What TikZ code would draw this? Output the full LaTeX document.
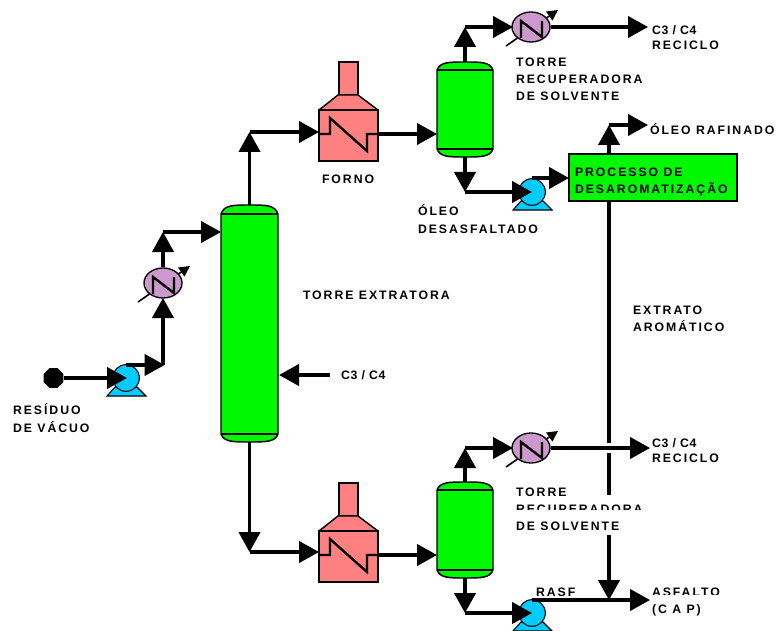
\documentclass[tikz,border=0pt]{standalone}
\usepackage{fontspec}
\setmainfont{Liberation Sans}[LetterSpace=16]
\usetikzlibrary{arrows.meta,shapes.geometric}
\definecolor{vgreen}{HTML}{00F800}
\definecolor{fornored}{HTML}{FF8080}
\definecolor{hxplum}{HTML}{CC99CC}
\definecolor{pumpblue}{HTML}{00CCFF}
\tikzset{
  flow/.style={line width=2.3pt,-{Triangle[length=15pt,width=16pt]}},
  pipe/.style={line width=2.3pt},
  eqline/.style={draw=black,line width=1.1pt},
  anchorbox/.style={inner sep=0pt,outer sep=0pt},
  lbl/.style={anchor=north west,inner sep=0pt,outer sep=0pt,align=left,font=\fontsize{9.2}{12.9}\selectfont\bfseries,text=black},
  lblnarrow/.style={lbl,font=\fontsize{9.2}{12.9}\selectfont\bfseries\addfontfeature{LetterSpace=6}},
}
\newcommand{\vessel}[7]{%
  \fill[vgreen] (#2,#6) .. controls ({#2+3},#3) and ({#2+12},#3) .. ({(#2+#4)/2},#3) .. controls ({#4-12},#3) and ({#4-3},#3) .. (#4,#6) -- (#4,#7) .. controls ({#4-3},#5) and ({#4-12},#5) .. ({(#2+#4)/2},#5) .. controls ({#2+12},#5) and ({#2+3},#5) .. (#2,#7) -- cycle;
  \draw[eqline] (#2,#6) .. controls ({#2+3},#3) and ({#2+12},#3) .. ({(#2+#4)/2},#3) .. controls ({#4-12},#3) and ({#4-3},#3) .. (#4,#6) -- (#4,#7) .. controls ({#4-3},#5) and ({#4-12},#5) .. ({(#2+#4)/2},#5) .. controls ({#2+12},#5) and ({#2+3},#5) .. (#2,#7) -- cycle;
  \draw[eqline] (#2,#6) -- (#4,#6) (#2,#7) -- (#4,#7);
  \node[anchorbox,minimum width={(#4-#2)*0.75pt},minimum height={(#5-#3)*0.75pt}] (#1) at ({(#2+#4)/2},{(#3+#5)/2}) {};
}
\newcommand{\forno}[3]{%
  \begin{scope}[shift={(#2,#3)}]
    \draw[eqline,fill=fornored] (20,-48) rectangle (39,-15);
    \draw[eqline,fill=fornored,line join=bevel] (0,0) -- (19,-15) -- (39,-15) -- (59,0) -- cycle;
    \draw[eqline,fill=fornored] (0,0) rectangle (59,51);
    \node[anchorbox,minimum width=44.25pt,minimum height=38.25pt] (#1) at (29.5,25.5) {};
    \draw[line width=1.8pt] (0,24) -- (11,24) -- (11,8) -- (48,41) -- (48,24) -- (59,24);
  \end{scope}
}
\newcommand{\hxr}[3]{%
  \begin{scope}[shift={(#2,#3)}]
    \draw[line width=1.2pt,-{Triangle[length=8pt,width=8pt]}] (-25,19) -- (27,-17);
    \node[ellipse,draw=black,line width=1pt,fill=hxplum,inner sep=0pt,minimum width=28.5pt,minimum height=22.5pt] (#1) at (0,0) {};
    \draw[line width=1.8pt] (-10,11) -- (-10,-6) -- (11,10) -- (11,-6);
  \end{scope}
}
\newcommand{\pumpa}[3]{%
  \begin{scope}[shift={(#2,#3)}]
    \draw[line width=0.8pt,fill=pumpblue] (-19,18) -- (-11,9) -- (11,9) -- (20,18) -- cycle;
    \node[circle,draw=black,line width=0.8pt,fill=pumpblue,inner sep=0pt,minimum size=20pt] (#1) at (0,0) {};
  \end{scope}
}
\begin{document}
\begin{tikzpicture}[x=0.75pt,y=-0.75pt]
\useasboundingbox (0,0) rectangle (781,631);
\clip (0,0) rectangle (781,631);
% equipment
\vessel{extr}{221}{205}{278}{442}{214}{434}
\vessel{drumA}{437}{62}{493}{157}{70}{149}
\vessel{drumB}{437}{482}{493}{578}{490}{570}
\forno{fornoA}{319}{110}
\forno{fornoB}{319}{531}
\hxr{hxA}{163}{283}
\hxr{hxB}{531}{27}
\hxr{hxC}{531}{448}
\pumpa{pA}{126}{378}
\pumpa{pB}{532}{192}
\pumpa{pC}{532}{613}
\node[anchorbox,draw=black,line width=1.1pt,fill=vgreen,minimum width=126pt,minimum height=35.25pt] (proc) at (653,177.5) {};
\node[regular polygon,regular polygon sides=8,fill=black,inner sep=0pt,minimum size=16pt] (src) at (53.5,378) {};
% junctions
\coordinate (a1) at (127,378);
\coordinate (a2) at (126,365);
\coordinate (a3) at (163,365);
\coordinate (a4) at (163,232);
\coordinate (a5) at (249.5,132);
\coordinate (a6) at (249.5,552);
\coordinate (b1) at (465,27);
\coordinate (b2) at (465,192);
\coordinate (b3) at (532,178);
\coordinate (b4) at (609,125);
\coordinate (c1) at (465,448);
\coordinate (c2) at (465,613);
\coordinate (c3) at (532,600);
\coordinate (d0) at (609,201);
\coordinate (d1) at (609,443);
\coordinate (d2) at (609,453);
\coordinate (d3) at (609,495);
\coordinate (d4) at (609,535);
\coordinate (d5) at (609,600);
\coordinate (eA) at (648,27);
\coordinate (eB) at (650,448);
\coordinate (eR) at (648,125);
\coordinate (eS) at (650,600);
\coordinate (fA) at (437,134);
\coordinate (fB) at (437,555);
\coordinate (fA0) at (378,134);
\coordinate (fB0) at (378,555);
\coordinate (g0) at (330,375);
\coordinate (g1) at (279,375);
\coordinate (hA) at (163,298);
\coordinate (hB) at (513,27);
\coordinate (hC) at (513,448);
% connectors
\draw[flow] (src) -- (a1);
\draw[flow] (a2) -- ([xshift=1.2pt]a3);
\draw[flow] (a3) -- (hA);
\draw[flow] (hxA.north) -- (a4);
\draw[flow] (a4) -- (extr.west|-a4);
\draw[flow] (extr.north) -- (a5);
\draw[flow] (a5) -- (fornoA.west|-a5);
\draw[flow] (fA0) -- (fA);
\draw[flow] (drumA.north) -- (b1);
\draw[flow] (b1) -- (hB);
\draw[flow] (hxB.east) -- (eA);
\draw[flow] (drumA.south) -- (b2);
\draw[flow] (b2) -- (pB.center);
\draw[flow] (b3) -- (proc.west|-b3);
\draw[flow] (proc.north-|b4) -- (b4);
\draw[flow] (b4) -- (eR);
\draw[flow] (g0) -- (g1);
\draw[flow] (extr.south) -- (a6);
\draw[flow] (a6) -- (fornoB.west|-a6);
\draw[flow] (fB0) -- (fB);
\draw[flow] (drumB.north) -- (c1);
\draw[flow] (c1) -- (hC);
\draw[flow] (hxC.east) -- (eB);
\draw[flow] (drumB.south) -- (c2);
\draw[flow] (c2) -- (pC.center);
\draw[flow] (c3) -- (eS);
\draw[pipe] (d0) -- (d1);
\draw[pipe] (d2) -- (d3);
\draw[flow] (d4) -- (d5);
% labels
\node[lbl] (t1) at (13,404) {RESÍDUO\\DE VÁCUO};
\node[lbl] (t2) at (322,175) {FORNO};
\node[lbl] (t3) at (418,205) {ÓLEO\\DESASFALTADO};
\node[lbl] (t4) at (303,291) {TORRE EXTRATORA};
\node[lblnarrow] (t5) at (341,371) {C3 / C4};
\node[lblnarrow] (t6a) at (652,26) {C3 / C4};
\node[lbl] (t6) at (652,41) {RECICLO};
\node[lbl] (t7) at (516,58) {TORRE\\RECUPERADORA\\DE SOLVENTE};
\node[lbl] (t8) at (650,124) {ÓLEO RAFINADO};
\node[lbl] (t9) at (575,168) {PROCESSO DE\\DESAROMATIZAÇÃO};
\node[lbl] (t10) at (633,306) {EXTRATO\\AROMÁTICO};
\node[lblnarrow] (t11a) at (652,439) {C3 / C4};
\node[lbl] (t11) at (652,454) {RECICLO};
\node[lbl] (t12) at (516,488) {TORRE\\RECUPERADORA\\DE SOLVENTE};
\node[lbl] (t13) at (536,588) {RASF};
\node[lbl] (t14) at (652,588) {ASFALTO\\(C A P)};
% the reference cuts off the feet of these two text lines
\fill[white] (515,510) rectangle (650,515);
\fill[white] (652,595) rectangle (730,599);
\end{tikzpicture}
\end{document}
